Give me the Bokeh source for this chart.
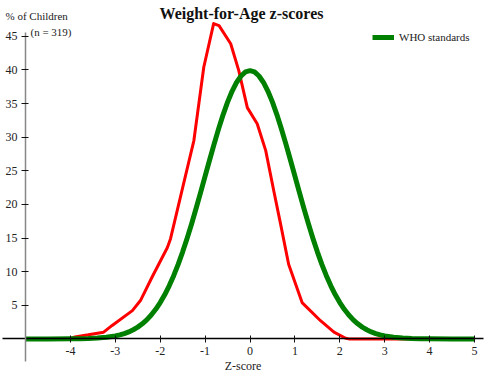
from bokeh.plotting import figure
from bokeh.models import Range1d, FixedTicker, Label, Legend, LegendItem
from bokeh.embed import file_html
from bokeh.resources import INLINE

# Z-score grid and WHO reference curve (% of children)
who_z = [-5, -4.5, -4, -3.8, -3.6, -3.4, -3.2, -3, -2.9, -2.8, -2.7, -2.6, -2.5, -2.4,
         -2.3, -2.2, -2.1, -2, -1.9, -1.8, -1.7, -1.6, -1.5, -1.4, -1.3, -1.2, -1.1,
         -1, -0.9, -0.8, -0.7, -0.6, -0.5, -0.4, -0.3, -0.2, -0.1, 0,
         0.1, 0.2, 0.3, 0.4, 0.5, 0.6, 0.7, 0.8, 0.9, 1, 1.1, 1.2, 1.3, 1.4, 1.5,
         1.6, 1.7, 1.8, 1.9, 2, 2.1, 2.2, 2.3, 2.4, 2.5, 2.6, 2.7, 2.8, 2.9, 3,
         3.2, 3.4, 3.6, 3.8, 4, 4.5, 5]
who_pct = [0, 0, 0.01, 0.03, 0.06, 0.12, 0.24, 0.44, 0.60, 0.79, 1.04, 1.36, 1.75, 2.24,
           2.83, 3.55, 4.40, 5.40, 6.56, 7.90, 9.40, 11.09, 12.95, 14.97, 17.14, 19.42,
           21.79, 24.20, 26.61, 28.97, 31.23, 33.32, 35.21, 36.83, 38.14, 39.10, 39.70,
           39.89,
           39.70, 39.10, 38.14, 36.83, 35.21, 33.32, 31.23, 28.97, 26.61, 24.20, 21.79,
           19.42, 17.14, 14.97, 12.95, 11.09, 9.40, 7.90, 6.56, 5.40, 4.40, 3.55, 2.83,
           2.24, 1.75, 1.36, 1.04, 0.79, 0.60, 0.44, 0.24, 0.12, 0.06, 0.03, 0.01, 0, 0]

# Observed sample (n = 319)
sample_z = [-5, -4.0, -3.9, -3.6, -3.26, -3.07, -2.62, -2.44, -2.18, -1.84, -1.77,
            -1.5, -1.25, -1.03, -0.81, -0.69, -0.43, -0.25, -0.06, 0.16, 0.35, 0.53,
            0.68, 0.86, 1.16, 1.57, 1.87, 2.13, 2.2, 5]
sample_pct = [0, 0, 0.3, 0.6, 1.0, 2.0, 4.2, 5.7, 9.2, 13.6, 14.9, 22.5, 29.5, 40.4,
              46.9, 46.6, 43.9, 39.9, 34.4, 32.0, 28.0, 22.0, 17.1, 11.1, 5.4, 2.7,
              1.0, 0.1, 0, 0]

x_ticks = [-4, -3, -2, -1, 0, 1, 2, 3, 4, 5]
y_ticks = [5, 10, 15, 20, 25, 30, 35, 40, 45]

SERIF = "Liberation Serif"

p = figure(width=501, height=380, output_backend="svg", toolbar_location=None,
           x_range=Range1d(-5.557, 5.601), y_range=Range1d(-6.19, 50.33),
           min_border=0, outline_line_color=None)
p.xgrid.visible = False
p.ygrid.visible = False

# Axes cross inside the plot: x axis at 0 %, y axis at z = -5
p.xaxis.fixed_location = 0
p.yaxis.fixed_location = -5
p.xaxis.bounds = (-5.51, 5.2)
p.yaxis.bounds = (-3.3, 45.6)
p.xaxis.ticker = FixedTicker(ticks=x_ticks)
p.yaxis.ticker = FixedTicker(ticks=y_ticks)
# plain hyphen-minus for negative tick labels
p.xaxis.major_label_overrides = {t: str(t) for t in x_ticks}
for ax in (p.xaxis, p.yaxis):
    ax.minor_tick_line_color = None
    ax.major_tick_in = 3
    ax.major_tick_out = 4
    ax.major_tick_line_color = "#111111"
    ax.major_label_text_font = SERIF
    ax.major_label_text_font_size = "12px"
    ax.major_label_text_color = "#222222"
    ax.major_label_standoff = 4
p.xaxis.axis_line_color = "#000000"
p.xaxis.axis_line_width = 1.5
p.yaxis.axis_line_color = "#888888"
p.yaxis.axis_line_width = 1.5
p.xaxis.axis_label = "Z-score"
p.xaxis.axis_label_text_font = SERIF
p.xaxis.axis_label_text_font_style = "normal"
p.xaxis.axis_label_text_font_size = "12px"
p.xaxis.axis_label_text_color = "#222222"
p.xaxis.axis_label_standoff = 1

p.line(sample_z, sample_pct, line_color="#ff0000", line_width=3, line_join="round")
who = p.line(who_z, who_pct, line_color="#008000", line_width=5, line_join="round")

legend = Legend(items=[LegendItem(label="WHO standards", renderers=[who])],
                location=(372, 337), padding=0, margin=0, spacing=0,
                glyph_width=22, glyph_height=12, label_standoff=5,
                label_text_font=SERIF, label_text_font_size="11px",
                label_text_color="#222222", border_line_color=None,
                background_fill_alpha=0)
p.add_layout(legend)

p.add_layout(Label(x=241, y=367, x_units="screen", y_units="screen",
                   text="Weight-for-Age z-scores", text_font=SERIF,
                   text_font_style="bold", text_font_size="16px",
                   text_align="center", text_baseline="middle", text_color="#111111"))
p.add_layout(Label(x=5, y=365, x_units="screen", y_units="screen",
                   text="% of Children", text_font=SERIF, text_font_size="11px",
                   text_align="left", text_baseline="middle", text_color="#222222"))
p.add_layout(Label(x=30, y=349, x_units="screen", y_units="screen",
                   text="(n = 319)", text_font=SERIF, text_font_size="11px",
                   text_align="left", text_baseline="middle", text_color="#222222"))

open("out.html", "w").write(file_html(p, INLINE))
